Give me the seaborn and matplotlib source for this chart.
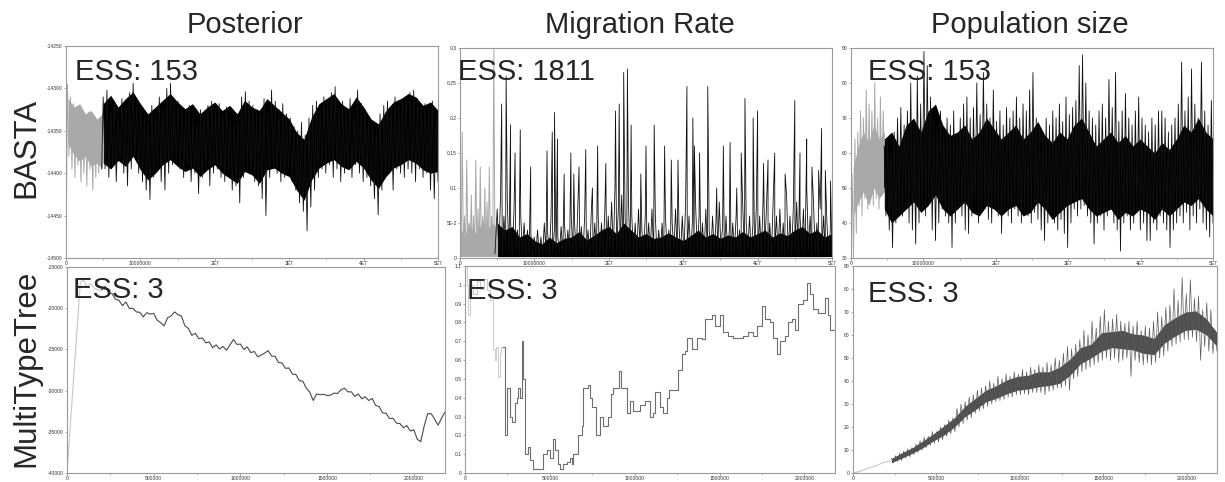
import numpy as np
import matplotlib
matplotlib.use("Agg")
import matplotlib.pyplot as plt
import seaborn as sns
from matplotlib.ticker import FixedLocator, FixedFormatter, MultipleLocator

sns.set_theme(style="white")
plt.rcParams["font.family"] = ["Liberation Sans", "DejaVu Sans"]

# ---------------------------------------------------------------- labels
col_titles = ["Posterior", "Migration Rate", "Population size"]
row_titles = ["BASTA", "MultiTypeTree"]
ess_top = ["ESS: 153", "ESS: 1811", "ESS: 153"]
ess_bottom = ["ESS: 3", "ESS: 3", "ESS: 3"]

top_xticks = [0, 1e7, 2e7, 3e7, 4e7, 5e7]
top_xlabels = ["0", "10000000", "2E7", "3E7", "4E7", "5E7"]
bot_xticks = [0, 5e5, 1e6, 1.5e6, 2e6]
bot_xlabels = ["0", "500000", "1000000", "1500000", "2000000"]

post_top_yticks = [-14500, -14450, -14400, -14350, -14300, -14250]
mig_top_yticks = [0, 0.05, 0.1, 0.15, 0.2, 0.25, 0.3]
mig_top_ylabels = ["0", "5E-2", "0.1", "0.15", "0.2", "0.25", "0.3"]
pop_top_yticks = [30, 40, 50, 60, 70, 80, 90]
post_bot_yticks = [-40000, -35000, -30000, -25000, -20000, -15000]
mig_bot_yticks = [0, 0.1, 0.2, 0.3, 0.4, 0.5, 0.6, 0.7, 0.8, 0.9, 1.0, 1.1]
mig_bot_ylabels = ["0", "0.1", "0.2", "0.3", "0.4", "0.5", "0.6", "0.7", "0.8", "0.9", "1", "1.1"]
pop_bot_yticks = [0, 10, 20, 30, 40, 50, 60, 70, 80, 90]

# ------------------------------------------------ BASTA posterior trace
# burn-in (0 - 5e6): upper / lower excursions
post_burn_hi = [-14295, -14310, -14318, -14325, -14322, -14330, -14335, -14328, -14338, -14332, -14340, -14335]
post_burn_lo = [-14380, -14395, -14405, -14390, -14410, -14400, -14415, -14395, -14420, -14405, -14400, -14395]
post_burn_core_hi = [-14312, -14322, -14318, -14330, -14326, -14336, -14330]
post_burn_core_lo = [-14366, -14378, -14386, -14380, -14392, -14388, -14394]
post_hi = [-14310, -14302, -14325, -14315, -14330, -14312, -14320, -14305, -14294, -14318,
           -14325, -14335, -14340, -14320, -14330, -14310, -14320, -14300, -14294, -14312,
           -14315, -14325, -14330, -14320, -14335, -14340, -14325, -14330, -14320, -14315,
           -14325, -14318, -14330, -14322, -14335, -14340, -14330, -14310, -14304, -14315,
           -14320, -14330, -14325, -14312, -14328, -14302, -14315, -14325, -14318, -14330,
           -14335, -14345, -14350, -14340, -14355, -14335, -14320, -14315, -14325, -14310,
           -14318, -14305, -14298, -14320, -14315, -14325, -14312, -14330, -14302, -14318,
           -14325, -14335, -14345, -14350, -14330, -14320, -14315, -14325, -14310, -14320,
           -14315, -14310, -14305, -14302, -14312, -14320, -14318, -14325, -14315, -14330]
post_lo = [-14395, -14405, -14390, -14410, -14385, -14400, -14415, -14395, -14380, -14400,
           -14410, -14420, -14431, -14405, -14395, -14410, -14420, -14400, -14390, -14385,
           -14395, -14405, -14390, -14410, -14400, -14424, -14405, -14395, -14415, -14400,
           -14395, -14405, -14410, -14400, -14420, -14415, -14435, -14405, -14395, -14400,
           -14410, -14415, -14430, -14450, -14405, -14395, -14400, -14410, -14405, -14395,
           -14410, -14420, -14435, -14445, -14468, -14440, -14420, -14405, -14395, -14400,
           -14390, -14405, -14395, -14410, -14400, -14395, -14405, -14390, -14400, -14410,
           -14405, -14415, -14430, -14449, -14420, -14405, -14400, -14420, -14395, -14400,
           -14405, -14395, -14400, -14410, -14395, -14405, -14400, -14420, -14430, -14410]
# dense central band of the chain, one value per 1e6 states from 5e6
post_core_hi = [-14318, -14308, -14322, -14312, -14304, -14318, -14330, -14322, -14314, -14306,
                -14316, -14324, -14318, -14330, -14322, -14316, -14326, -14320, -14330, -14314,
                -14322, -14326, -14312, -14320, -14328, -14336, -14352, -14360, -14334, -14318,
                -14312, -14306, -14318, -14324, -14310, -14322, -14336, -14342, -14326, -14316,
                -14312, -14306, -14310, -14320, -14316, -14326]
post_core_lo = [-14388, -14395, -14385, -14392, -14380, -14396, -14408, -14400, -14390, -14384,
                -14392, -14398, -14394, -14404, -14396, -14390, -14400, -14406, -14412, -14398,
                -14402, -14412, -14396, -14394, -14400, -14404, -14420, -14432, -14408, -14394,
                -14388, -14384, -14392, -14396, -14386, -14394, -14408, -14418, -14404, -14394,
                -14390, -14384, -14388, -14396, -14400, -14398]

# ------------------------------------------------ BASTA migration trace
mig_burn_hi = [0.14, 0.18, 0.06, 0.14, 0.05, 0.09, 0.06, 0.14, 0.07, 0.13, 0.06, 0.10, 0.08, 0.13, 0.06, 0.30]
mig_burn_lo = [0.004, 0.010, 0.003, 0.008, 0.002, 0.006, 0.012, 0.004, 0.007, 0.003, 0.009, 0.005, 0.002, 0.008, 0.004, 0.006]
mig_burn_core = [0.045, 0.03, 0.05, 0.035, 0.04, 0.055, 0.04, 0.05, 0.045]
mig_hi = [0.07, 0.09, 0.06, 0.08, 0.05, 0.07, 0.04, 0.06, 0.05, 0.04,
          0.035, 0.03, 0.04, 0.03, 0.05, 0.035, 0.06, 0.04, 0.03, 0.045,
          0.05, 0.04, 0.06, 0.05, 0.08, 0.045, 0.06, 0.04, 0.07, 0.05,
          0.06, 0.05, 0.07, 0.06, 0.08, 0.10, 0.07, 0.09, 0.06, 0.08,
          0.06, 0.05, 0.07, 0.04, 0.06, 0.05, 0.07, 0.06, 0.04, 0.05,
          0.06, 0.04, 0.05, 0.07, 0.05, 0.06, 0.08, 0.06, 0.05, 0.07,
          0.06, 0.05, 0.07, 0.04, 0.06, 0.05, 0.08, 0.05, 0.06, 0.04,
          0.05, 0.06, 0.04, 0.07, 0.05, 0.06, 0.05, 0.07, 0.06, 0.08,
          0.07, 0.05, 0.08, 0.06, 0.07, 0.05, 0.09, 0.06, 0.07, 0.08,
          0.06, 0.07, 0.10, 0.06, 0.08, 0.05, 0.07, 0.06, 0.05, 0.04]
mig_lo = [0.008, 0.004, 0.012, 0.006, 0.003, 0.010, 0.005, 0.008, 0.004, 0.006,
          0.003, 0.007, 0.002, 0.005, 0.009, 0.004, 0.006, 0.003, 0.008, 0.005,
          0.004, 0.010, 0.006, 0.003, 0.007, 0.005, 0.012, 0.004, 0.006, 0.003,
          0.008, 0.005, 0.004, 0.011, 0.006, 0.009, 0.004, 0.007, 0.003, 0.006,
          0.005, 0.003, 0.008, 0.004, 0.006, 0.010, 0.005, 0.003, 0.007, 0.004,
          0.006, 0.004, 0.009, 0.005, 0.003, 0.007, 0.012, 0.005, 0.004, 0.008,
          0.005, 0.003, 0.006, 0.004, 0.009, 0.005, 0.007, 0.003, 0.006, 0.004,
          0.008, 0.005, 0.003, 0.006, 0.010, 0.004, 0.007, 0.005, 0.003, 0.009,
          0.006, 0.004, 0.011, 0.005, 0.007, 0.003, 0.008, 0.005, 0.006, 0.004,
          0.007, 0.005, 0.012, 0.004, 0.006, 0.003, 0.008, 0.005, 0.004, 0.006]
mig_core = [0.05, 0.04, 0.045, 0.03, 0.035, 0.025, 0.02, 0.03, 0.022, 0.028,
            0.03, 0.038, 0.026, 0.032, 0.04, 0.045, 0.035, 0.05, 0.04, 0.03,
            0.035, 0.028, 0.03, 0.036, 0.03, 0.025, 0.032, 0.04, 0.03, 0.035,
            0.028, 0.033, 0.03, 0.038, 0.03, 0.035, 0.04, 0.03, 0.036, 0.032,
            0.04, 0.045, 0.035, 0.04, 0.03, 0.035]
# isolated excursions (state in millions, rate)
mig_spike_state = [5.6, 6.2, 6.8, 7.4, 8.1, 9.5, 11.7, 12.4, 12.7, 13.1, 14.0, 14.9, 15.3, 16.0,
                   16.9, 17.8, 18.5, 19.6, 20.9, 21.4, 22.0, 22.5, 23.0, 24.3, 25.0, 26.1,
                   27.5, 28.4, 29.3, 30.5, 31.3, 31.5, 32.2, 33.3, 34.5, 35.4, 36.3, 37.2,
                   37.8, 38.3, 39.4, 40.0, 40.8, 41.4, 42.3, 43.7, 45.0, 45.7, 46.6, 47.3,
                   48.2, 48.6, 49.1, 49.8]
mig_spike_value = [0.22, 0.26, 0.19, 0.15, 0.183, 0.13, 0.153, 0.18, 0.208, 0.17, 0.12, 0.15, 0.12, 0.13,
                   0.155, 0.10, 0.16, 0.135, 0.21, 0.22, 0.265, 0.27, 0.19, 0.12, 0.16, 0.19,
                   0.16, 0.14, 0.14, 0.245, 0.20, 0.16, 0.15, 0.245, 0.10, 0.16, 0.165, 0.10,
                   0.15, 0.228, 0.20, 0.21, 0.135, 0.14, 0.15, 0.12, 0.225, 0.15, 0.17, 0.13,
                   0.125, 0.185, 0.125, 0.11]

# ------------------------------------------------ BASTA population trace
pop_burn_hi = [54, 64, 66, 72, 70, 78, 74, 72, 80, 70, 76, 72]
pop_burn_lo = [30, 37, 45, 42, 47, 44, 48, 45, 47, 44, 48, 50]
pop_burn_core_hi = [56, 62, 66, 63, 68, 64, 66]
pop_burn_core_lo = [42, 46, 49, 45, 50, 47, 49]
pop_hi = [62, 64, 60, 66, 70, 73, 68, 72, 80, 67,
          82, 74, 89, 85, 76, 70, 68, 72, 66, 70,
          68, 72, 65, 70, 74, 76, 70, 73, 80, 71,
          83, 74, 70, 78, 69, 72, 68, 73, 70, 72,
          76, 70, 74, 72, 78, 83, 70, 68, 66, 70,
          68, 72, 70, 74, 69, 76, 71, 73, 75, 85,
          88, 80, 72, 70, 68, 72, 74, 70, 81, 73,
          83, 69, 72, 77, 70, 68, 72, 76, 70, 68,
          66, 70, 68, 72, 72, 70, 66, 68, 70, 74,
          86, 72, 76, 84, 74, 70, 86, 72, 68, 75]
pop_lo = [42, 38, 33, 40, 44, 42, 45, 40, 38, 34,
          40, 44, 42, 46, 38, 35, 40, 44, 42, 40,
          33, 40, 44, 42, 38, 37, 42, 45, 40, 43,
          44, 41, 40, 44, 42, 37, 43, 42, 40, 44,
          42, 40, 44, 42, 40, 43, 41, 38, 35, 40,
          42, 40, 38, 41, 37, 33, 40, 44, 42, 44,
          45, 42, 40, 34, 40, 42, 38, 42, 44, 40,
          38, 32, 40, 42, 38, 40, 43, 38, 40, 35,
          35, 40, 38, 42, 40, 38, 33, 38, 40, 42,
          40, 43, 38, 42, 40, 44, 40, 38, 36, 40]
pop_core_hi = [64, 66, 62, 68, 70, 66, 72, 74, 68, 65, 66, 68, 64, 66, 70, 67, 64, 66, 68, 64,
               66, 69, 65, 63, 66, 64, 68, 70, 66, 62, 64, 66, 63, 65, 62, 64, 62, 60, 63, 61,
               64, 68, 66, 70, 66, 64]
pop_core_lo = [44, 40, 42, 44, 46, 43, 45, 48, 44, 42, 44, 46, 43, 42, 45, 44, 42, 44, 45, 42,
               43, 46, 44, 41, 43, 45, 46, 47, 44, 42, 43, 44, 41, 43, 42, 44, 43, 41, 44, 42,
               44, 46, 45, 47, 44, 42]

# ------------------------------------------ MultiTypeTree posterior trace
mtt_post_burn_state = [0, 77, 95, 115, 135, 160, 185, 200]
mtt_post_burn_value = [-40000, -16800, -16600, -17400, -17000, -17600, -17800, -17800]
mtt_post = [-17800, -17350, -18100, -18250, -18900, -19050, -19700, -19250, -20050, -20000,
            -20450, -20500, -21050, -20550, -20700, -20650, -21450, -21750, -22150, -21150,
            -20950, -20450, -20800, -20950, -22150, -22450, -23300, -23050, -23700, -23600,
            -24200, -24100, -24800, -24450, -24950, -24650, -25100, -24450, -23800, -24400,
            -24350, -25000, -24700, -25400, -25250, -25900, -25700, -25450, -25150, -25800,
            -25850, -26600, -26650, -27300, -27250, -28000, -28050, -28800, -28850, -29700,
            -30200, -31200, -30400, -30500, -30450, -30600, -30550, -30300, -30350, -29900,
            -29700, -30150, -30150, -30700, -30400, -31000, -30750, -31200, -30950, -31800,
            -31950, -32700, -32750, -33400, -33350, -33950, -34000, -34500, -34250, -34900,
            -34750, -35900, -36200, -34300, -32800, -32800, -33450, -34200, -33350, -32600]

# ------------------------------------------ MultiTypeTree migration trace
mtt_mig_burn_state = [0, 10, 20, 30, 50, 70, 90, 110, 130, 150, 165, 175, 185, 195, 205, 215, 226]
mtt_mig_burn_value = [1.1, 1.0, 0.84, 1.0, 0.95, 1.02, 0.98, 1.03, 0.97, 0.92, 0.66, 0.6, 0.67, 0.51, 0.64, 0.67, 0.67]
mtt_mig_state = [226, 236, 246, 265, 275, 295, 304, 314, 324, 334, 340, 354, 373, 383, 403, 432,
                 462, 481, 501, 517, 530, 550, 560, 579, 599, 619, 628, 638, 668, 687, 697, 727,
                 737, 746, 772, 795, 815, 845, 858, 874, 909, 917, 943, 953, 972, 992, 1031, 1061,
                 1090, 1110, 1119, 1149, 1169, 1188, 1204, 1237, 1257, 1277, 1296, 1306, 1336, 1365,
                 1394, 1414, 1453, 1473, 1502, 1522, 1552, 1581, 1640, 1669, 1699, 1718, 1748, 1768,
                 1797, 1817, 1836, 1856, 1885, 1905, 1925, 1944, 1964, 1993, 2013, 2033, 2052, 2082,
                 2121, 2141, 2150, 2180]
mtt_mig_value = [0.67, 0.2, 0.45, 0.3, 0.27, 0.37, 0.4, 0.45, 0.4, 0.7, 0.5, 0.1, 0.14, 0.07, 0.02, 0.02,
                 0.1, 0.12, 0.08, 0.18, 0.12, 0.05, 0.02, 0.05, 0.06, 0.08, 0.05, 0.1, 0.2, 0.25, 0.45, 0.47,
                 0.4, 0.35, 0.2, 0.3, 0.25, 0.3, 0.42, 0.45, 0.54, 0.45, 0.45, 0.32, 0.38, 0.33, 0.36, 0.38,
                 0.3, 0.32, 0.43, 0.35, 0.32, 0.4, 0.44, 0.44, 0.55, 0.63, 0.65, 0.72, 0.66, 0.72,
                 0.71, 0.82, 0.84, 0.78, 0.84, 0.75, 0.73, 0.72, 0.73, 0.75, 0.73, 0.78, 0.89, 0.82,
                 0.8, 0.72, 0.63, 0.7, 0.73, 0.8, 0.82, 0.76, 0.9, 0.92, 1.01, 0.95, 0.87, 0.85,
                 0.93, 0.84, 0.76, 0.8]

# ----------------------------------------- MultiTypeTree population trace
mtt_pop_burn_state = [0, 30, 60, 90, 120, 150, 180, 210, 230]
mtt_pop_burn_value = [0, 0.5, 1.2, 2, 2.8, 3.5, 4.5, 5, 5.3]
mtt_pop_hi = [6.5, 7.5, 8.5, 9.5, 10.5, 11, 12.5, 14, 15.5, 16,
              18, 18, 20, 21, 23, 24, 28, 30, 31, 33,
              34, 36, 37, 38, 40, 39, 42, 41, 43, 42,
              44, 43, 45, 44, 46, 45, 47, 46, 48, 47,
              50, 49, 52, 55, 54, 56, 58, 62, 60, 66,
              63, 68, 71, 66, 67, 69, 66, 65, 66, 64,
              66, 62, 64, 63, 66, 70, 68, 72, 73, 80,
              75, 85, 78, 84, 76, 77, 71, 74, 71, 62]
mtt_pop_lo = [4.5, 5, 5.5, 6.5, 7, 8, 9, 10, 11, 12,
              13, 13.5, 14.5, 16, 17, 18, 20, 21.5, 23, 24,
              26, 27, 28, 29, 30, 31, 31.5, 32, 33, 33,
              34, 34, 34.5, 34, 35, 35, 35, 34, 35.5, 36,
              37, 37, 38, 36, 41, 42, 44, 45, 46, 47,
              48, 49, 50, 49, 50, 48, 49, 50, 42, 49,
              48, 47, 48, 47, 48, 50, 51, 53, 55, 56,
              57, 58, 58, 59, 57, 49, 55, 53, 52, 53]
mtt_pop_core_hi = [6.3, 8.8, 11, 14, 17, 20.5, 24, 29, 32.5, 36, 38, 40.5, 42, 42.5, 44, 44,
                   46, 49.5, 54.5, 56, 61, 61.5, 62, 60.5, 60, 58.5, 64.5, 67.5, 70, 70.5, 67, 61]
mtt_pop_core_lo = [4.5, 6.5, 8.6, 11, 14, 16.5, 20, 24.5, 27.5, 31, 32.5, 34.5, 36, 36.5, 37.5, 38,
                   39, 42.5, 47.5, 50, 53, 54.5, 54, 53.5, 52, 51.5, 56.5, 59.5, 62, 62.5, 60, 55]

# ---------------------------------------------------------------- figure
W, H = 1225, 482
fig = plt.figure(figsize=(W / 100, H / 100), dpi=100)


def panel(left, top, right, bottom):
    return fig.add_axes([left / W, 1 - bottom / H, (right - left) / W, (bottom - top) / H])


def zigzag(start, stop, hi, lo):
    vals = np.column_stack([hi, lo]).ravel()
    return np.linspace(start, stop, len(vals)), vals


def trace(ax, x, y, color, lw, **kw):
    sns.lineplot(x=x, y=y, ax=ax, color=color, linewidth=lw,
                 estimator=None, sort=False, **kw)


def band(ax, start, stop, upper, lower, color):
    x = np.linspace(start, stop, len(upper))
    ax.fill_between(x, lower, upper, color=color, linewidth=0)


def style(ax, xlim, ylim, xticks, xlabels, yticks, ylabels=None):
    ax.set_xlim(*xlim)
    ax.set_ylim(*ylim)
    ax.xaxis.set_major_locator(FixedLocator(xticks))
    ax.xaxis.set_major_formatter(FixedFormatter(xlabels))
    ax.yaxis.set_major_locator(FixedLocator(yticks))
    ax.yaxis.set_major_formatter(
        FixedFormatter(ylabels if ylabels else [str(v) for v in yticks]))
    ax.xaxis.set_minor_locator(MultipleLocator((xticks[1] - xticks[0]) / 2))
    for s in ax.spines.values():
        s.set_color("#9a9a9a")
        s.set_linewidth(0.8)
    ax.tick_params(which="both", direction="out", colors="#8a8a8a",
                   labelsize=3.6, labelcolor="#333333", pad=0.6)
    ax.tick_params(which="major", length=1.8, width=0.5, left=True, bottom=True)
    ax.tick_params(which="minor", length=1.1, width=0.4, left=False, bottom=True)
    ax.set_xlabel("")
    ax.set_ylabel("")


BURN = "#a9a9a9"

# BASTA posterior
ax = panel(66, 46, 438, 258)
band(ax, 0.3e6, 4.9e6, post_burn_core_hi, post_burn_core_lo, BURN)
bx, by = zigzag(0, 4.6e6, post_burn_hi, post_burn_lo)
bx = np.concatenate([[0], bx + 2e5]); by = np.concatenate([[-14500], by])
trace(ax, bx, by, BURN, 0.7)
band(ax, 5.0e6, 5.0e7, post_core_hi, post_core_lo, "black")
mx, my = zigzag(5.0e6, 5.0e7, post_hi, post_lo)
trace(ax, np.concatenate([[bx[-1]], mx]), np.concatenate([[by[-1]], my]), "#111111", 0.6)
style(ax, (0, 5e7), (-14500, -14250), top_xticks, top_xlabels, post_top_yticks)

# BASTA migration rate
ax = panel(460, 48, 832, 258)
band(ax, 0, 4.9e6, mig_burn_core, [0.002] * len(mig_burn_core), BURN)
bx, by = zigzag(0, 4.7e6, mig_burn_hi, mig_burn_lo)
trace(ax, bx, by, BURN, 0.7)
band(ax, 5.0e6, 5.0e7, mig_core, [0.002] * len(mig_core), "black")
mx, my = zigzag(5.0e6, 5.0e7, mig_hi, mig_lo)
sx = np.array(mig_spike_state) * 1e6
allx = np.concatenate([mx, sx]); ally = np.concatenate([my, mig_spike_value])
order = np.argsort(allx, kind="stable")
trace(ax, np.concatenate([[bx[-1]], allx[order]]),
      np.concatenate([[by[-1]], ally[order]]), "#111111", 0.6)
style(ax, (0, 5e7), (0, 0.3), top_xticks, top_xlabels, mig_top_yticks, mig_top_ylabels)

# BASTA population size
ax = panel(851, 48, 1213, 258)
band(ax, 0.3e6, 4.6e6, pop_burn_core_hi, pop_burn_core_lo, BURN)
bx, by = zigzag(0, 4.5e6, pop_burn_hi, pop_burn_lo)
bx = np.concatenate([[0], bx + 1.5e5]); by = np.concatenate([[30], by])
trace(ax, bx, by, BURN, 0.7)
band(ax, 4.6e6, 5.0e7, pop_core_hi, pop_core_lo, "black")
mx, my = zigzag(4.6e6, 5.0e7, pop_hi, pop_lo)
trace(ax, np.concatenate([[bx[-1]], mx]), np.concatenate([[by[-1]], my]), "#111111", 0.6)
style(ax, (0, 5e7), (30, 90), top_xticks, top_xlabels, pop_top_yticks)

# MultiTypeTree posterior
ax = panel(67, 267, 445, 473)
trace(ax, np.array(mtt_post_burn_state) * 1e3, mtt_post_burn_value, "#c8c8c8", 0.8)
trace(ax, np.linspace(2.0e5, 2.18e6, len(mtt_post)), mtt_post, "#4a4a4a", 0.8)
style(ax, (0, 2.18e6), (-40000, -15000), bot_xticks, bot_xlabels, post_bot_yticks)

# MultiTypeTree migration rate
ax = panel(465, 266, 835, 473)
trace(ax, np.array(mtt_mig_burn_state) * 1e3, mtt_mig_burn_value, "#cfcfcf", 0.8,
      drawstyle="steps-post")
trace(ax, np.array(mtt_mig_state) * 1e3, mtt_mig_value, "#6e6e6e", 0.8,
      drawstyle="steps-post")
style(ax, (0, 2.18e6), (0, 1.1), bot_xticks, bot_xlabels, mig_bot_yticks, mig_bot_ylabels)

# MultiTypeTree population size
ax = panel(853, 266, 1217, 473)
trace(ax, np.array(mtt_pop_burn_state) * 1e3, mtt_pop_burn_value, "#c8c8c8", 0.8)
band(ax, 2.3e5, 2.18e6, mtt_pop_core_hi, mtt_pop_core_lo, "#4d4d4d")
px, py = zigzag(2.3e5, 2.18e6, mtt_pop_hi, mtt_pop_lo)
trace(ax, px, py, "#5c5c5c", 0.5)
style(ax, (0, 2.18e6), (0, 90), bot_xticks, bot_xlabels, pop_bot_yticks)

# ------------------------------------------------------------ annotations
for title, xc in zip(col_titles, [245, 640, 1030]):
    fig.text(xc / W, 1 - 33 / H, title, ha="center", va="baseline", fontsize=21)

for label, yc in zip(row_titles, [148, 368]):
    fig.text(26 / W, 1 - yc / H, label, ha="center", va="center",
             rotation=90, fontsize=22.5)

for text, (x, y) in zip(ess_top, [(75, 80), (458, 80), (868, 80)]):
    fig.text(x / W, 1 - y / H, text, ha="left", va="baseline", fontsize=21)
for text, (x, y) in zip(ess_bottom, [(73, 298), (467, 299), (868, 302)]):
    fig.text(x / W, 1 - y / H, text, ha="left", va="baseline", fontsize=21)

fig.savefig("out.png", dpi=100, facecolor="white")
